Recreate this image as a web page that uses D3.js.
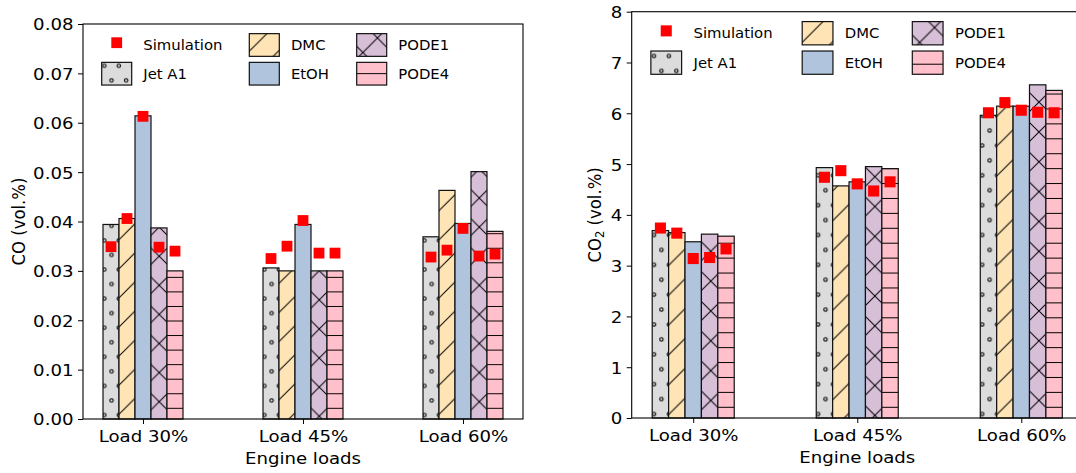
<!DOCTYPE html>
<html>
<head>
<meta charset="utf-8">
<script src="https://cdn.jsdelivr.net/npm/d3@7"></script>
<style>
  body { margin: 0; background: #fff; }
  svg { display: block; font-family: "DejaVu Sans", sans-serif; background: #fff; }
</style>
</head>
<body>
<svg width="1076" height="473"></svg>
<script>
(function (d3) {
	'use strict';

	const loads = ['Load 30%', 'Load 45%', 'Load 60%'];
	const fuels = ['Jet A1', 'DMC', 'EtOH', 'PODE1', 'PODE4'];
	const fuelColors = ['gainsboro', 'moccasin', 'lightsteelblue', 'thistle', 'pink'];
	const fuelHatches = ['o', '/', '', 'x', '-'];

	// CO (vol.%), measured -> bars
	const coJetA1 = [0.0394, 0.0306, 0.0369];
	const coDMC   = [0.0406, 0.0300, 0.0463];
	const coEtOH  = [0.0614, 0.0394, 0.0396];
	const coPODE1 = [0.0387, 0.0300, 0.0501];
	const coPODE4 = [0.0300, 0.0300, 0.0380];
	// CO (vol.%), simulation -> red squares
	const coSimJetA1 = [0.0349, 0.0325, 0.0328];
	const coSimDMC   = [0.0406, 0.0350, 0.0342];
	const coSimEtOH  = [0.0613, 0.0402, 0.0386];
	const coSimPODE1 = [0.0348, 0.0336, 0.0330];
	const coSimPODE4 = [0.0340, 0.0336, 0.0334];

	// CO2 (vol.%), measured
	const co2JetA1 = [3.69, 4.93, 5.96];
	const co2DMC   = [3.65, 4.57, 6.14];
	const co2EtOH  = [3.47, 4.65, 6.14];
	const co2PODE1 = [3.62, 4.95, 6.56];
	const co2PODE4 = [3.58, 4.91, 6.45];
	// CO2 (vol.%), simulation
	const co2SimJetA1 = [3.74, 4.74, 6.01];
	const co2SimDMC   = [3.64, 4.87, 6.21];
	const co2SimEtOH  = [3.14, 4.61, 6.06];
	const co2SimPODE1 = [3.16, 4.47, 6.02];
	const co2SimPODE4 = [3.33, 4.65, 6.01];

	const coTicks = [0, 0.01, 0.02, 0.03, 0.04, 0.05, 0.06, 0.07, 0.08];
	const co2Ticks = [0, 1, 2, 3, 4, 5, 6, 7, 8];

	const svg = d3.select('svg');
	const defs = svg.append('defs');
	const sx = 1.1;          // the picture is a bit wider than tall
	const tickFont = 16.5;
	const legendFont = 13.5;
	const barW = 0.1;

	const charts = [
	    { id: 'co', left: 83, right: 523, top: 24, bottom: 419,
	      yMax: 0.08, ticks: coTicks, fmt: d3.format('.2f'),
	      bars: [coJetA1, coDMC, coEtOH, coPODE1, coPODE4],
	      sims: [coSimJetA1, coSimDMC, coSimEtOH, coSimPODE1, coSimPODE4],
	      sub: '', labelX: 24.5,
	      dots: [104.3, 415], slash: 9.5, cross: [8, 19.4], dash: 408.3 },
	    { id: 'co2', left: 631.7, right: 1082.8, top: 11.7, bottom: 418,
	      yMax: 8, ticks: co2Ticks, fmt: d3.format('d'),
	      bars: [co2JetA1, co2DMC, co2EtOH, co2PODE1, co2PODE4],
	      sims: [co2SimJetA1, co2SimDMC, co2SimEtOH, co2SimPODE1, co2SimPODE4],
	      sub: '2', labelX: 601,
	      dots: [654, 414], slash: 9.2, cross: [7.4, 12], dash: 407.3 }
	];

	const legendCols = [18.7, 166.3, 273.7];
	const legendRows = [21, 49.7];

	const makePatterns = (c, p) => {
	    const pat = (i, w, h, tx, ty) => defs.append('pattern')
		  .attr('id', `${c.id}-h${i}`)
		  .attr('patternUnits', 'userSpaceOnUse')
		  .attr('width', w).attr('height', h)
		  .attr('patternTransform', `translate(${tx},${ty})`);
	    const slashD = `M-1,1L1,-1M0,${p}L${p},0M${p - 1},${p + 1}L${p + 1},${p - 1}`;
	    const backD = `M0,0L${p},${p}M-1,${p - 1}L1,${p + 1}M${p - 1},-1L${p + 1},1`;

	    fuelHatches.forEach((h, i) => {
		if (h === 'o') {
		    const el = pat(i, p / 2, p, c.dots[0] - p / 8, c.dots[1] - p / 4);
		    el.selectAll('circle').data([[p / 8, p / 4], [3 * p / 8, 3 * p / 4]])
			.enter().append('circle')
			.attr('cx', d => d[0]).attr('cy', d => d[1]).attr('r', 1.7)
			.attr('fill', 'none').attr('stroke', '#000').attr('stroke-width', 1.1);
		} else if (h === '/') {
		    pat(i, p, p, c.slash, 0).append('path').attr('d', slashD)
			.attr('stroke', '#000').attr('stroke-width', 1);
		} else if (h === 'x') {
		    const ox = (c.cross[0] + c.cross[1]) / 2;
		    const oy = (c.cross[0] - c.cross[1]) / 2;
		    pat(i, p, p, ox, oy).append('path').attr('d', slashD + backD)
			.attr('stroke', '#000').attr('stroke-width', 1);
		} else if (h === '-') {
		    pat(i, p, p / 2, 0, c.dash - p / 4).append('path')
			.attr('d', `M0,${p / 4}H${p}`)
			.attr('stroke', '#000').attr('stroke-width', 1);
		}
	    });
	};

	const hatchFill = (c, i) => fuelHatches[i] ? `url(#${c.id}-h${i})` : 'none';

	const drawChart = c => {
	    const k = (c.right - c.left) / 440;
	    const p = 29.1 * k;
	    const ms = 10.8 * k;
	    makePatterns(c, p);

	    const x = d3.scaleLinear().domain([-0.375, 2.375]).range([c.left, c.right]);
	    const y = d3.scaleLinear().domain([0, c.yMax]).range([c.bottom, c.top]);
	    const g = svg.append('g').attr('class', 'chart-' + c.id);

	    // bars
	    fuels.forEach((f, i) => {
		const bx = j => x(j + (i - 2) * barW - barW / 2);
		const bw = x(barW) - x(0);
		const sel = g.append('g').attr('class', 'fuel');
		sel.selectAll('rect.fill').data(c.bars[i]).enter().append('rect')
		    .attr('class', 'fill')
		    .attr('x', (d, j) => bx(j)).attr('y', d => y(d))
		    .attr('width', bw).attr('height', d => y(0) - y(d))
		    .attr('fill', fuelColors[i]);
		sel.selectAll('rect.edge').data(c.bars[i]).enter().append('rect')
		    .attr('class', 'edge')
		    .attr('x', (d, j) => bx(j)).attr('y', d => y(d))
		    .attr('width', bw).attr('height', d => y(0) - y(d))
		    .attr('fill', hatchFill(c, i))
		    .attr('stroke', '#111').attr('stroke-width', 1.2);
	    });

	    // simulation markers
	    fuels.forEach((f, i) => {
		g.selectAll(null).data(c.sims[i]).enter().append('rect')
		    .attr('x', (d, j) => x(j + (i - 2) * barW) - ms / 2)
		    .attr('y', d => y(d) - ms / 2)
		    .attr('width', ms).attr('height', ms)
		    .attr('fill', '#ff0000');
	    });

	    // frame
	    g.append('rect')
		.attr('x', c.left).attr('y', c.top)
		.attr('width', c.right - c.left).attr('height', c.bottom - c.top)
		.attr('fill', 'none').attr('stroke', '#000').attr('stroke-width', 1.1);

	    // y axis
	    const yAxisG = g.append('g')
		  .attr('transform', `translate(${c.left},0)`)
		  .call(d3.axisLeft(y).tickValues(c.ticks).tickFormat(c.fmt).tickSize(5).tickSizeOuter(0));
	    yAxisG.select('.domain').remove();
	    yAxisG.selectAll('line').attr('stroke', '#000').attr('stroke-width', 1);
	    yAxisG.selectAll('text')
		.attr('x', 0).attr('dy', '0.36em')
		.attr('transform', `translate(-9.5,0) scale(${sx},1)`)
		.attr('font-size', tickFont).attr('font-family', 'DejaVu Sans').attr('fill', '#000');

	    // x axis
	    const xAxisG = g.append('g')
		  .attr('transform', `translate(0,${c.bottom})`)
		  .call(d3.axisBottom(x).tickValues([0, 1, 2]).tickFormat(i => loads[i]).tickSize(5).tickSizeOuter(0));
	    xAxisG.select('.domain').remove();
	    xAxisG.selectAll('line').attr('stroke', '#000').attr('stroke-width', 1);
	    xAxisG.selectAll('text')
		.attr('y', 0).attr('dy', null)
		.attr('transform', `translate(0,23) scale(${sx},1)`)
		.attr('font-size', tickFont).attr('font-family', 'DejaVu Sans').attr('fill', '#000');

	    // axis labels
	    g.append('text')
		.attr('text-anchor', 'middle')
		.attr('font-size', tickFont)
		.attr('transform', `translate(${(c.left + c.right) / 2},${c.bottom + 44.5}) scale(${sx},1)`)
		.text('Engine loads');

	    const yl = g.append('text')
		  .attr('text-anchor', 'middle')
		  .attr('font-size', tickFont)
		  .attr('transform', `translate(${c.labelX},${(c.top + c.bottom) / 2}) scale(${sx},1) rotate(-90)`);
	    yl.append('tspan').text('CO');
	    if (c.sub) {
		yl.append('tspan').attr('font-size', tickFont * 0.7).attr('dy', 3).text(c.sub);
		yl.append('tspan').attr('dy', -3).text(' (vol.%)');
	    } else {
		yl.append('tspan').text(' (vol.%)');
	    }

	    // legend
	    const entries = ['Simulation'].concat(fuels);
	    const lg = g.append('g').attr('class', 'legend');
	    entries.forEach((name, idx) => {
		const col = Math.floor(idx / 2);
		const row = idx % 2;
		const hx = c.left + legendCols[col] * k;
		const ry = c.top + legendRows[row] * k;
		const hw = 30 * k, hh = 22.7 * k;
		if (idx === 0) {
		    lg.append('rect')
			.attr('x', hx + hw / 2 - ms / 2).attr('y', ry - 2.3 * k - ms / 2)
			.attr('width', ms).attr('height', ms).attr('fill', '#ff0000');
		} else {
		    const i = idx - 1;
		    lg.append('rect')
			.attr('x', hx).attr('y', ry - hh / 2).attr('width', hw).attr('height', hh)
			.attr('fill', fuelColors[i]);
		    lg.append('rect')
			.attr('x', hx).attr('y', ry - hh / 2).attr('width', hw).attr('height', hh)
			.attr('fill', hatchFill(c, i))
			.attr('stroke', '#111').attr('stroke-width', 1.2);
		}
		lg.append('text')
		    .attr('font-size', legendFont)
		    .attr('dy', '0.36em')
		    .attr('transform', `translate(${hx + 41.6 * k},${ry}) scale(${sx},1)`)
		    .text(name);
	    });
	};

	charts.forEach(drawChart);

}(d3));
</script>
</body>
</html>
